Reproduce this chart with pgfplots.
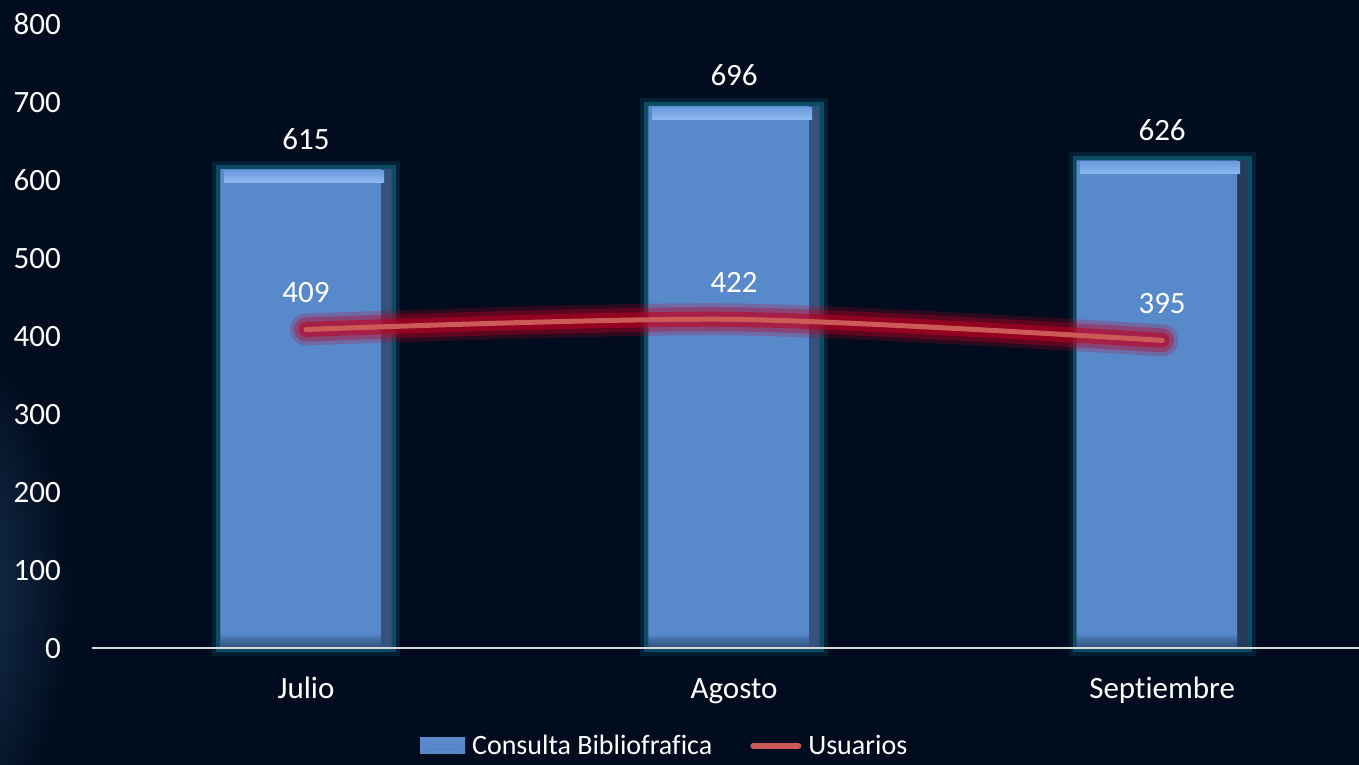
\documentclass[border=0pt]{standalone}
\usepackage{pgfplots}
\pgfplotsset{compat=1.18}
\usepackage{fontspec}
\setmainfont{Carlito}[Ligatures={NoCommon}]
\definecolor{bg}{HTML}{010D1F}
\definecolor{bgedge}{HTML}{1B3A5C}
\definecolor{barblue}{HTML}{5889CB}
\definecolor{bartop}{HTML}{6A9BDD}
\definecolor{barlight}{HTML}{8DB8F0}
\definecolor{bardark}{HTML}{34527C}
\definecolor{barbot}{HTML}{4470A8}
\definecolor{glowteal}{HTML}{0E6A86}
\definecolor{linered}{HTML}{CC5A57}
\definecolor{glowred}{HTML}{C00020}
\definecolor{axisgray}{HTML}{D9D9D9}
\newcommand{\lbl}{\fontsize{31}{37}\selectfont}
\newcommand{\leglbl}{\fontsize{28}{33}\selectfont}
\pgfdeclareverticalshading{barv}{100bp}{color(0bp)=(bardark); color(25bp)=(bardark); color(25.9bp)=(barbot); color(26.3bp)=(barblue);
  color(100bp)=(barblue)}
\pgfdeclarehorizontalshading{barh}{100bp}{color(0bp)=(bardark); color(25bp)=(bardark); color(71bp)=(bardark); color(75bp)=(bardark!70!black); color(100bp)=(bardark!70!black)}
\begin{document}
\begin{tikzpicture}
\begin{axis}[
  scale only axis, width=1267pt, height=623pt,
  xmin=-0.5, xmax=2.46, ymin=0, ymax=800,
  clip=false, axis on top=true,
  axis x line*=bottom, axis y line*=left,
  x axis line style={draw=axisgray, line width=2pt, -},
  y axis line style={draw=none},
  major tick length=0pt,
  ytick={0,100,...,800},
  xtick={0,1,2},
  xticklabels={Julio,Agosto,Septiembre},
  /pgf/number format/assume math mode=true,
  tick label style={text=white, font=\lbl, inner sep=0pt},
  yticklabel style={anchor=base east, xshift=-31pt, yshift=-10pt},
  xticklabel style={anchor=base, yshift=-50pt},
  legend columns=2,
  legend style={at={(0.452,-0.157)}, anchor=center, draw=none, fill=none,
    text=white, font=\leglbl, inner sep=0pt,
    /tikz/every odd column/.append style={column sep=5pt},
    /tikz/every even column/.append style={column sep=36pt}},
]
% background
\coordinate (bbSW) at ([shift={(-92pt,-117pt)}]rel axis cs:0,0);
\coordinate (bbNE) at ([shift={(0pt,25pt)}]rel axis cs:1,1);
\fill[bg] (bbSW) rectangle (bbNE);
\begin{scope}
\clip (bbSW) rectangle (bbNE);
\shade[inner color=bgedge, outer color=bg] ([shift={(-60pt,170pt)}]bbSW) ellipse [x radius=130pt, y radius=260pt];
\end{scope}
% bar glow
\addplot[ybar, bar width=0.4, bar shift=0pt, fill=none, draw=glowteal, draw opacity=0.2, line width=16pt, forget plot]
  coordinates {(0,615) (1,696) (2,626)};
\addplot[ybar, bar width=0.4, bar shift=0pt, fill=none, draw=glowteal, draw opacity=0.6, line width=8pt, forget plot]
  coordinates {(0,615) (1,696) (2,626)};
% bar base (dark right edge)
\addplot[ybar, bar width=0.4, bar shift=0pt, draw=none, shade, shading=barh, forget plot]
  coordinates {(0,615) (1,696) (2,626)};
% bars
\addplot[ybar, bar width=0.375, bar shift=-0.0125, draw=none, shade, shading=barv,
  legend image code/.code={\fill[barblue] (0pt,-8pt) rectangle (45pt,8pt);
    \fill[barlight] (0pt,8pt) -- (45pt,8pt) -- (38pt,3pt) -- (7pt,3pt) -- cycle;
    \fill[bardark] (0pt,-8pt) -- (45pt,-8pt) -- (38pt,-4pt) -- (7pt,-4pt) -- cycle;}]
  coordinates {(0,615) (1,696) (2,626)};
\addlegendentry{Consulta Bibliofrafica}
% top bevel strip
\addplot[ybar, bar width=0.4, bar shift=0pt, draw=none, fill=none, forget plot,
  nodes near coords={},
  every node near coord/.style={anchor=north, inner sep=0pt, minimum width=160pt, minimum height=12pt,
    top color=bartop, bottom color=barlight, yshift=-1pt, xshift=-2pt}]
  coordinates {(0,615) (1,696) (2,626)};
% value labels of bars
\addplot[ybar, bar width=0.4, bar shift=0pt, draw=none, fill=none, forget plot,
  nodes near coords, every node near coord/.append style={text=white, font=\lbl, anchor=base, inner sep=0pt, yshift=20pt}]
  coordinates {(0,615) (1,696) (2,626)};
% line glow
\addplot[smooth, tension=0.5, draw=glowred, opacity=0.22, line width=32pt, line cap=round, forget plot]
  coordinates {(0,409) (1,422) (2,395)};
\addplot[smooth, tension=0.5, draw=glowred, opacity=0.35, line width=24pt, line cap=round, forget plot]
  coordinates {(0,409) (1,422) (2,395)};
\addplot[smooth, tension=0.5, draw=glowred, opacity=0.55, line width=15pt, line cap=round, forget plot]
  coordinates {(0,409) (1,422) (2,395)};
% line
\addplot[smooth, tension=0.5, draw=linered, line width=5pt, line cap=round,
  nodes near coords, every node near coord/.append style={text=white, font=\lbl, anchor=base, inner sep=0pt, yshift=27pt},
  legend image code/.code={\draw[linered, line width=6pt, line cap=round] (0pt,0pt) -- (45pt,0pt);}]
  coordinates {(0,409) (1,422) (2,395)};
\addlegendentry{Usuarios}
\end{axis}
\pgfresetboundingbox
\useasboundingbox (bbSW) rectangle (bbNE);
\end{tikzpicture}
\end{document}
